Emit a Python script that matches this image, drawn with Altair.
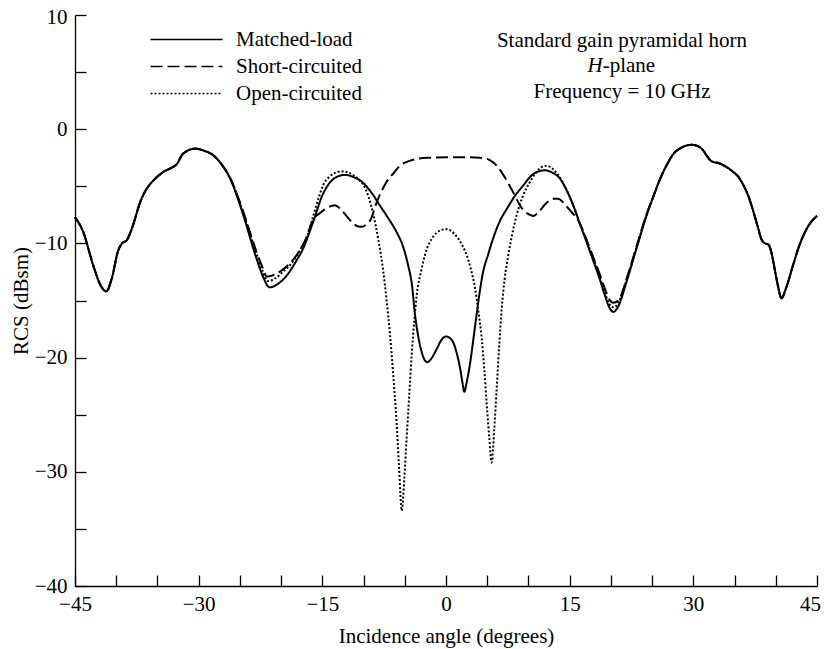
import altair as alt
import pandas as pd

FONT = "Liberation Serif"
FS = 21
LOADS = ["Matched-load", "Short-circuited", "Open-circuited"]

# shared outer parts (all three loads coincide there)
outer_left_angle = [-45, -44.0, -42.8, -41.8, -41.2, -40.55, -39.75, -39.3, -38.7, -38.1, -37.1, -36.3,
                    -35.5, -34.3, -33.1, -32.7, -31.9, -30.4, -29.3, -28.2, -27.2]
outer_left_rcs = [-7.7, -9.0, -11.9, -13.8, -14.2, -13.1, -10.6, -10.0, -9.7, -8.7, -6.4, -5.2,
                  -4.5, -3.75, -3.3, -3.1, -2.15, -1.7, -1.9, -2.3, -3.1]

outer_right_angle = [25.2, 26.0, 26.8, 27.6, 28.6, 29.8, 30.6, 31.2, 31.7, 32.2, 33.2, 34.0, 34.85, 35.5,
                     36.07, 36.7, 37.28, 37.8, 38.3, 38.7, 39.1, 39.4, 39.7, 40.2, 40.7, 41.2, 42.1, 42.8,
                     43.55, 44.2, 45]
outer_right_rcs = [-5.8, -4.3, -3.1, -2.15, -1.6, -1.37, -1.5, -1.86, -2.4, -2.8, -3.0, -3.3, -3.75, -4.2,
                   -4.9, -5.9, -7.2, -8.5, -9.7, -10.0, -10.1, -10.6, -11.6, -13.5, -14.8, -14.0, -11.9, -10.3,
                   -9.0, -8.2, -7.6]

# central parts, per load
matched_angle = [-26.2, -24.6, -23.0, -22.2, -21.4, -20.3, -19.3, -18.3, -17.3, -16.1, -15.0, -14.0, -13.0,
                 -12.2, -11.2, -10.2, -9.1, -8.0, -7.0, -6.0, -5.2, -4.6, -4.1, -3.8, -3.4, -2.95, -2.6,
                 -2.26, -1.7, -1.1, -0.5, 0.0, 0.5, 0.9, 1.3, 1.7, 2.0, 2.22, 2.5, 2.9, 3.3, 3.7, 4.1, 4.5,
                 5.1, 5.7, 6.5, 7.4, 8.4, 9.4, 10.3, 11.2, 12.0, 12.9, 13.8, 14.6, 15.45, 16.2, 17.06, 17.8,
                 18.5, 19.3, 19.8, 20.3, 20.9, 21.9, 23.1, 24.35]
matched_rcs = [-4.3, -7.5, -11.3, -12.9, -13.85, -13.5, -12.8, -11.7, -10.4, -8.1, -5.8, -4.6, -4.1,
               -4.0, -4.2, -4.6, -5.5, -6.7, -7.8, -9.0, -10.3, -11.9, -13.8, -16.0, -18.0, -19.5, -20.2,
               -20.4, -20.0, -19.2, -18.4, -18.15, -18.3, -18.7, -19.6, -20.9, -22.2, -23.0, -22.2, -20.6,
               -18.5, -16.3, -14.2, -12.5, -11.0, -9.6, -8.1, -6.95, -5.8, -4.9, -4.1, -3.7, -3.6, -3.8,
               -4.3, -5.3, -6.7, -8.2, -9.9, -11.4, -12.8, -14.6, -15.6, -16.0, -15.5, -13.35, -10.45, -7.5]

short_angle = [-26.2, -24.6, -23.0, -22.2, -21.75, -21.0, -20.0, -19.0, -18.0, -17.0, -16.1, -15.2, -14.2,
               -13.5, -12.65, -11.6, -10.7, -10.2, -9.6, -9.2, -8.4, -7.2, -6.3, -5.6, -4.5, -3.5, -2.0, 0.5,
               3.0, 4.1, 5.0, 5.7, 6.4, 6.95, 7.6, 8.2, 9.0, 9.4, 10.2, 10.6, 11.2, 12.0, 13.0, 13.6, 14.2,
               14.8, 15.4, 16.2, 17.06, 17.8, 18.5, 19.3, 19.8, 20.3, 20.9, 21.9, 23.1, 24.35]
short_rcs = [-4.25, -7.2, -10.7, -12.2, -12.9, -12.8, -12.4, -11.8, -10.9, -9.6, -7.9, -7.3, -6.8,
             -6.65, -7.1, -8.0, -8.5, -8.55, -8.3, -8.0, -6.4, -4.6, -3.8, -3.2, -2.8, -2.6, -2.5, -2.45,
             -2.45, -2.5, -2.6, -2.9, -3.4, -4.0, -4.8, -5.6, -6.7, -7.1, -7.5, -7.6, -7.3, -6.6, -6.1, -6.1,
             -6.4, -6.9, -7.4, -8.2, -9.7, -11.1, -12.4, -14.0, -14.9, -15.2, -15.0, -13.1, -10.3, -7.4]

open_angle = [-26.2, -24.6, -23.0, -22.2, -21.6, -20.8, -19.8, -18.8, -17.8, -16.8, -16.1, -15.4, -14.9,
              -14.2, -13.67, -12.65, -11.8, -11.2, -10.6, -10.0, -9.4, -8.8, -8.2, -7.6, -7.2, -6.79, -6.4,
              -6.0, -5.7, -5.37, -5.05, -4.77, -4.45, -4.16, -3.85, -3.55, -3.0, -2.55, -1.54, -0.8, 0.0,
              0.6, 1.3, 2.0, 2.5, 3.0, 3.52, 3.9, 4.33, 4.64, 4.94, 5.25, 5.54, 5.85, 6.15, 6.45, 6.76, 7.1,
              7.56, 8.0, 8.58, 9.3, 10.2, 11.0, 11.6, 12.2, 12.8, 13.5, 14.2, 15.0, 15.7, 16.2, 17.06, 17.8,
              18.5, 19.3, 19.8, 20.3, 20.9, 21.9, 23.1, 24.35]
open_rcs = [-4.25, -7.3, -10.9, -12.5, -13.3, -13.1, -12.5, -11.8, -10.7, -9.3, -7.6, -5.9, -4.9,
            -4.2, -3.9, -3.7, -3.8, -4.04, -4.4, -4.9, -5.9, -7.5, -9.7, -12.5, -15.0, -18.0, -21.5,
            -25.6, -29.5, -33.4, -30.5, -27.0, -23.2, -19.75, -16.8, -14.5, -12.4, -11.0, -9.4, -8.9, -8.75,
            -8.9, -9.4, -10.2, -11.0, -12.2, -13.9, -15.8, -18.3, -21.0, -24.1, -27.0, -29.2, -26.3, -22.7,
            -19.0, -15.7, -13.2, -11.0, -9.3, -7.5, -5.9, -4.6, -3.7, -3.3, -3.2, -3.4, -3.9, -4.7, -5.9,
            -7.2, -8.2, -9.8, -11.2, -12.6, -14.4, -15.3, -15.6, -15.2, -13.2, -10.4, -7.45]

x_ticks = list(range(-45, 50, 5))
y_ticks = list(range(-40, 15, 5))

frames = []
for name, a, r in [(LOADS[0], matched_angle, matched_rcs),
                   (LOADS[1], short_angle, short_rcs),
                   (LOADS[2], open_angle, open_rcs)]:
    frames.append(pd.DataFrame({
        "angle": outer_left_angle + a + outer_right_angle,
        "rcs": outer_left_rcs + r + outer_right_rcs,
        "load": name,
    }))
df = pd.concat(frames, ignore_index=True)

axis_common = dict(
    grid=False, domainColor="black", tickColor="black", labelColor="black",
    labelFont=FONT, labelFontSize=FS, titleFont=FONT, titleFontSize=FS,
    titleFontWeight="normal", titleColor="black", domainWidth=1.3, tickWidth=1.3,
    labelOverlap=False, labelFlush=False, tickSize=alt.ExprRef(expr="-11"),
)

lines = alt.Chart(df).mark_line(interpolate="monotone", strokeWidth=2, color="black").encode(
    x=alt.X("angle:Q", scale=alt.Scale(domain=[-45, 45], nice=False, zero=False),
            axis=alt.Axis(title="Incidence angle (degrees)", values=x_ticks,
                          labelExpr="datum.value % 15 === 0 ? datum.label : ''",
                          labelOffset={"condition": {"test": "datum.value === 45", "value": -7}, "value": 0},
                          labelPadding=18, titlePadding=11, **axis_common)),
    y=alt.Y("rcs:Q", scale=alt.Scale(domain=[-40, 10], nice=False, zero=False),
            axis=alt.Axis(title="RCS (dBsm)", values=y_ticks,
                          labelExpr="datum.value % 10 === 0 ? datum.label : ''",
                          labelOffset={"condition": {"test": "datum.value === 10", "value": 2}, "value": 0},
                          labelPadding=19, titlePadding=3, **axis_common)),
    strokeDash=alt.StrokeDash(
        "load:N",
        scale=alt.Scale(domain=LOADS, range=[[1, 0], [12, 5], [2, 2]]),
        legend=alt.Legend(title=None, orient="none", legendX=101, legendY=14, padding=0,
                          symbolType="M-4,0H4", symbolSize=324, symbolStrokeWidth=1.5,
                          symbolStrokeColor="black", labelFont=FONT, labelFontSize=FS,
                          labelColor="black", labelOffset=39, rowPadding=5),
    ),
)

dummy = pd.DataFrame({"k": [0]})
txt = dict(font=FONT, fontSize=FS, color="black", baseline="middle")
t1 = alt.Chart(dummy).mark_text(align="center", **txt).encode(
    x=alt.datum(21.35), y=alt.datum(7.74), text=alt.value("Standard gain pyramidal horn"))
t2a = alt.Chart(dummy).mark_text(align="right", fontStyle="italic", **txt).encode(
    x=alt.datum(19.0), y=alt.datum(5.50), text=alt.value("H"))
t2b = alt.Chart(dummy).mark_text(align="left", **txt).encode(
    x=alt.datum(19.0), y=alt.datum(5.50), text=alt.value("-plane"))
t3 = alt.Chart(dummy).mark_text(align="center", **txt).encode(
    x=alt.datum(21.35), y=alt.datum(3.29), text=alt.value("Frequency = 10 GHz"))

chart = alt.layer(lines, t1, t2a, t2b, t3).properties(
    width=742, height=571,
    autosize=alt.AutoSizeParams(type="none"),
    padding={"left": 67, "top": 7, "right": 4, "bottom": 63},
).configure_view(stroke="transparent")

chart.save("out.html", embed_options={"renderer": "svg", "actions": False})
